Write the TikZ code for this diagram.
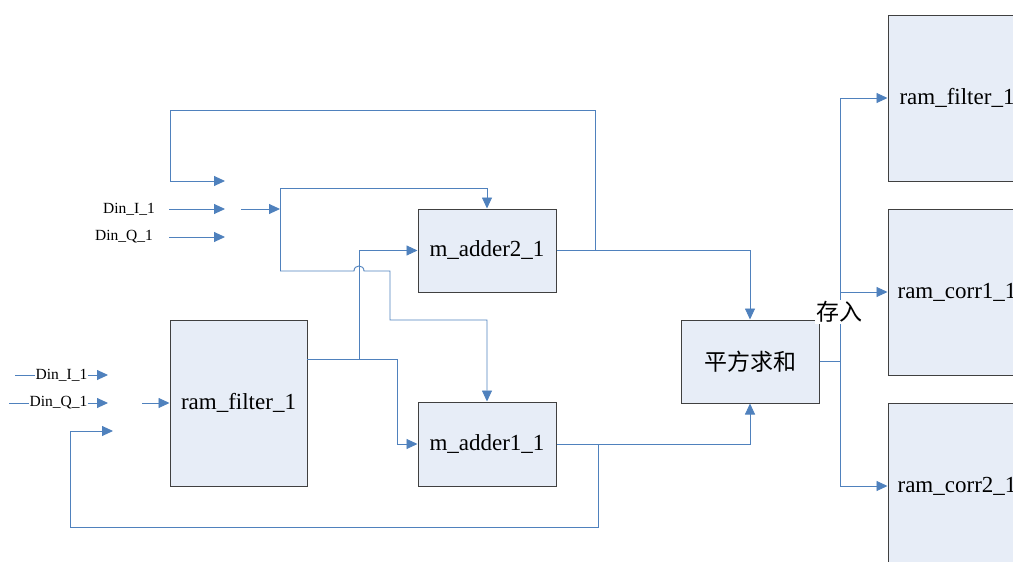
\documentclass[tikz,border=0pt]{standalone}
\usepackage{fontspec}
\setmainfont{Liberation Serif}
\newfontfamily\cjk{Noto Sans CJK SC}
\usetikzlibrary{arrows.meta}
\definecolor{lineblue}{HTML}{4F81BD}
\definecolor{boxfill}{HTML}{E7EDF7}
\definecolor{boxdraw}{HTML}{404040}
\tikzset{
  blk/.style={draw=boxdraw, fill=boxfill, line width=1pt, inner sep=0pt, font=\fontsize{23}{27}\selectfont},
  ln/.style={draw=lineblue, line width=0.9pt},
  arr/.style={ln, -{Triangle[length=11pt,width=10pt]}},
  dinlab/.style={font=\fontsize{15.5}{18}\selectfont, inner sep=1pt},
  cjklab/.style={font=\cjk\fontsize{23}{27}\selectfont},
}
\begin{document}
\begin{tikzpicture}[x=1pt,y=-1pt]
\useasboundingbox (0,0) rectangle (1013,562);
\begin{scope}
\clip (0,0) rectangle (1013,562);
% blocks
\node[blk, minimum width=138pt, minimum height=83pt] (madd2) at (487,250.5) {m\_adder2\_1};
\node[blk, minimum width=138pt, minimum height=84pt] (madd1) at (487,444) {m\_adder1\_1};
\node[blk, minimum width=137pt, minimum height=166pt] (rf) at (238.5,403) {ram\_filter\_1};
\node[blk, cjklab, minimum width=138pt, minimum height=83pt] (sq) at (750,361.5) {平方求和};
\node[blk, minimum width=138pt, minimum height=166pt] (r1) at (957,98) {ram\_filter\_1};
\node[blk, minimum width=138pt, minimum height=166pt] (r2) at (957,292) {ram\_corr1\_1};
\node[blk, minimum width=138pt, minimum height=166pt] (r3) at (957,486) {ram\_corr2\_1};

% coordinates
\coordinate (j1) at (595,250.5);
\coordinate (tl) at (170,110);
\coordinate (fb1) at (225,181);
\coordinate (a1s) at (169,209);
\coordinate (a1e) at (225,209);
\coordinate (a2s) at (169,237);
\coordinate (a2e) at (225,237);
\coordinate (a3s) at (241,209);
\coordinate (a3e) at (280,209);
\coordinate (vb) at (280,271);
\coordinate (vt) at (280,188);
\coordinate (h1) at (354,271);
\coordinate (h2) at (364,271);
\coordinate (h3) at (390,271);
\coordinate (h4) at (390,320);
\coordinate (rfo) at (307,359);
\coordinate (rj) at (359,359);
\coordinate (rk) at (397,359);
\coordinate (j2) at (598,444);
\coordinate (bl) at (70,527);
\coordinate (fb2) at (113,431);
\coordinate (l1s) at (15,375);
\coordinate (l1e) at (108,375);
\coordinate (l2s) at (9,403);
\coordinate (l2e) at (108,403);
\coordinate (l3s) at (142,403);
\coordinate (sj) at (840,361.5);

% top Din labels
\node[dinlab, anchor=east] (dinI) at (156,209) {Din\_I\_1};
\node[dinlab, anchor=east] (dinQ) at (154,237) {Din\_Q\_1};
\draw[arr] (a1s) -- (a1e);
\draw[arr] (a2s) -- (a2e);
\draw[arr] (a3s) -- (a3e);

% adder2 output and feedback loop
\draw[arr] (madd2.east) -| (sq.north);
\draw[arr] (j1) |- (tl) |- (fb1);

% split to adders
\draw[arr] (vb) -- (vt) -| (madd2.north);
\draw[arr] (vb) -- (h1) .. controls (354,264.3) and (364,264.3) .. (h2) -- (h3) -- (h4) -| (madd1.north);

% ram_filter output
\draw[arr] (rfo) -- (rk) |- (madd1.west);
\draw[arr] (rj) |- (madd2.west);

% adder1 output and feedback
\draw[arr] (madd1.east) -| (sq.south);
\draw[arr] (j2) |- (bl) |- (fb2);

% lower Din labels
\draw[arr] (l1s) -- node[dinlab, fill=white] (dinI2) {Din\_I\_1} (l1e);
\draw[arr] (l2s) -- node[dinlab, fill=white] (dinQ2) {Din\_Q\_1} (l2e);
\draw[arr] (l3s) -- (rf.west);

% square sum outputs
\draw[ln] (sq.east) -- (sj);
\draw[arr] (sj) |- (r1.west);
\draw[arr] (sj) |- (r2.west);
\draw[arr] (sj) |- (r3.west);
\node[fill=white, inner sep=1pt, cjklab] (cr) at (839,312) {存入};
\end{scope}
\end{tikzpicture}
\end{document}
